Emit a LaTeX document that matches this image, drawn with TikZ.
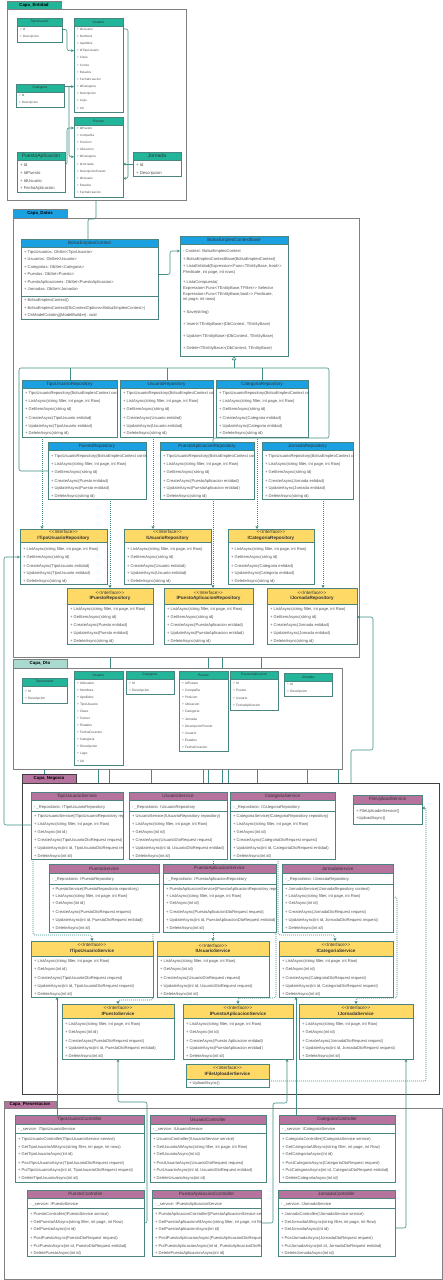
\documentclass[tikz,border=0pt]{standalone}
\usepackage{fontspec}
\setmainfont{Liberation Sans}
\usetikzlibrary{arrows.meta,fit}

\definecolor{entc}{HTML}{22B59A}
\definecolor{datc}{HTML}{1BA1E2}
\definecolor{dtotab}{HTML}{A9D9CF}
\definecolor{negc}{HTML}{B5739D}
\definecolor{ifc}{HTML}{FFD966}
\definecolor{boxc}{HTML}{4A8580}
\definecolor{linec}{HTML}{3F8F87}
\definecolor{fldc}{HTML}{505050}
\definecolor{framec}{HTML}{808080}

\pgfdeclarelayer{back}
\pgfdeclarelayer{frames}
\pgfdeclarelayer{conns}
\pgfsetlayers{back,frames,conns,main}

\tikzset{
  boxline/.style={draw=boxc, line width=0.6pt},
  classbox/.style={boxline, inner sep=0pt, outer sep=0pt},
  hdr/.style={inner sep=0pt, align=center, text=black!80, font=\fontsize{4.6}{5.6}\selectfont},
  hsmall/.style={font=\fontsize{3.4}{4}\selectfont},
  hlarge/.style={font=\fontsize{5}{6}\selectfont},
  fld/.style={anchor=west, inner sep=0pt, text=fldc, font=\fontsize{4.1}{5}\selectfont},
  fsmall/.style={font=\fontsize{3.1}{4}\selectfont},
  fdto/.style={font=\fontsize{3.3}{4}\selectfont},
  flarge/.style={font=\fontsize{4.2}{5}\selectfont},
  pkg/.style={draw=framec, line width=0.6pt, fill=white, inner sep=0pt, outer sep=0pt},
  tablabel/.style={inner sep=0pt, font=\fontsize{4.4}{5}\selectfont\bfseries},
  conn/.style={draw=linec, line width=0.6pt, rounded corners=2pt},
  dep/.style={conn, -{Stealth[length=3pt,width=2.8pt]}},
  real/.style={conn, dash pattern=on 1pt off 1pt, -{Triangle[open,length=2.6pt,width=3pt]}},
  gen/.style={conn, -{Triangle[open,length=4pt,width=4.5pt]}},
}

% class box: [header style]{name}{x1}{y1}{x2}{y2}{header bottom}{header colour}{title}
\newcommand\umlclass[9][]{%
  \fill[white] (#3,#4) rectangle (#5,#6);
  \fill[#8] (#3,#4) rectangle (#5,#7);
  \draw[boxline] (#3,#7) -- (#5,#7);
  \node[classbox, fit={(#3,#4) (#5,#6)}] (#2) {};
  \node[hdr,#1] at ({(#3+#5)/2},{(#4+#7)/2}) {#9};
}
% compartment rows: [style]{box}{x}{y/text list}
\newcommand\umlrows[4][]{%
  \begin{scope}
    \clip (#2.north west) rectangle (#2.south east);
    \foreach \ry/\rt in {#4} {\node[fld,#1] at (#3,\ry) {\rt};}
  \end{scope}
}
\newcommand\umlsep[2]{\draw[boxline] (#1.west |- 0,#2) -- (#1.east |- 0,#2);}
\newcommand\iface[1]{<{}<Interface>{}>\\{\bfseries #1}}

\begin{document}
\begin{tikzpicture}[x=1pt,y=-1pt]
\useasboundingbox (0,0) rectangle (443,1280);

% ---------------- packages ----------------
\begin{pgfonlayer}{frames}
  \node[pkg, fit={(7,9) (186,200)}] (pEnt) {};
  \node[pkg, fill=entc, fit={(7,1) (61,9)}] (tEnt) {};
  \node[tablabel] at (tEnt) {Capa\_Entidad};

  \node[pkg, fit={(13,218) (359,657)}] (pDat) {};
  \node[pkg, fill=datc, fit={(13,209) (67,218)}] (tDat) {};
  \node[tablabel] at (tDat) {Capa\_Datos};

  \node[pkg, fit={(13,668) (342,769)}] (pDto) {};
  \node[pkg, fill=dtotab, fit={(13,659) (67,668)}] (tDto) {};
  \node[tablabel] at (tDto) {Capa\_Dto};

  \node[pkg, draw=black!75, fit={(22,783) (439,1094)}] (pNeg) {};
  \node[pkg, draw=black!75, fill=negc, fit={(22,774) (76,783)}] (tNeg) {};
  \node[tablabel] at (tNeg) {Capa\_Negocio};

  \node[pkg, fit={(4,1108) (442,1279)}] (pPre) {};
  \node[pkg, fill=negc, fit={(4,1101) (56,1108)}] (tPre) {};
  \node[tablabel] at (tPre) {Capa\_Presentacion};
\end{pgfonlayer}

% links between layers, partly hidden behind the packages
\begin{pgfonlayer}{back}
  \fill[white] (0,0) rectangle (443,1280);
  \foreach \x in {110,208,222,261}
    \draw[conn] (\x,0 |- pDat.south) -- (\x,0 |- pDto.north);
  \foreach \x in {98,109,151,203,208,222,228,257,307,338}
    \draw[conn] (\x,0 |- pDto.south) -- (\x,0 |- pNeg.north);
  \draw[conn] (44,0 |- pDto.south) -- (44,0 |- tNeg.north);
\end{pgfonlayer}

% ---------------- Capa_Entidad ----------------
\umlclass[hsmall]{eTipo}{17}{18}{62}{42}{26}{entc}{TipoUsuario}
\umlrows[fsmall]{eTipo}{20}{29.5/{+ Id}, 37/{+ Descripcion}}

\umlclass[hsmall]{eUsuario}{74}{18}{123}{112}{26}{entc}{Usuario}
\umlrows[fsmall]{eUsuario}{77}{29/{+ IdUsuario}, 36.2/{+ Nombres}, 43.4/{+ Apellidos},
  50.6/{+ IdTipoUsuario}, 57.8/{+ Clave}, 65/{+ Correo}, 72.2/{+ Estados},
  79.4/{+ FechaCreacion}, 86.6/{+ IdCategoria}, 93.8/{+ Descripcion}, 101/{+ Logo}, 108.2/{+ Url}}

\umlclass[hsmall]{eCat}{16}{84}{64}{107}{92}{entc}{Categoria}
\umlrows[fsmall]{eCat}{19}{95.5/{+ Id}, 103/{+ Descripcion}}

\umlclass[hsmall]{ePuesto}{74}{117}{123}{197}{125}{entc}{Puesto}
\umlrows[fsmall]{ePuesto}{77}{128/{+ IdPuesto}, 135.2/{+ Compañia}, 142.4/{+ Posicion},
  149.6/{+ Ubicacion}, 156.8/{+ IdCategoria}, 164/{+ IdJornada}, 171.2/{+ DescripcionPuesto},
  178.4/{+ IdUsuario}, 185.6/{+ Estados}, 192.8/{+ FechaCreacion}}

\umlclass[hlarge]{ePA}{17}{152}{65}{192}{160}{entc}{PuestoAplicacion}
\umlrows[flarge]{ePA}{20}{164.5/{+ Id}, 172.5/{+ IdPuesto}, 180.5/{+ IdUsuario}, 188.3/{+ FechaAplicacion}}

\umlclass[hlarge]{eJornada}{133}{152}{181}{176}{160}{entc}{Jornada}
\umlrows[flarge]{eJornada}{136}{165/{+ Id}, 173/{+ Descripcion}}

% ---------------- Capa_Datos ----------------
\umlclass{dCtx}{21}{239}{158}{319}{247}{datc}{BolsaEmpleoContext}
\umlrows{dCtx}{24}{252/{+ TipoUsuarios: DbSet<TipoUsuario>}, 259.5/{+ Usuarios: DbSet<Usuario>},
  267/{+ Categorias: DbSet<Categoria>}, 274.5/{+ Puestos: DbSet<Puesto>},
  282/{+ PuestoAplicaciones: DbSet<PuestoAplicacion>}, 289.5/{+ Jornadas: DbSet<Jornada>},
  300.5/{+ BolsaEmpleoContext()}, 308/{+ BolsaEmpleoContext(DbContextOptions<BolsaEmpleoContext>)},
  315.5/{+ OnModelCreating(ModelBuilder): void}}
\umlsep{dCtx}{296}

\umlclass{dBase}{180}{236}{288}{356}{244}{datc}{BolsaEmpleoContextBase}
\umlrows{dBase}{183}{251/{- Context: BolsaEmpleoContext}, 259/{+ BolsaEmpleoContextBase(BolsaEmpleoContext)},
  266/{+ ListaEntidad(Expression<Func<TEntityBase, bool>{}>}, 272/{Predicate, int page, int rows)},
  282/{+ ListaCompuesta(}, 288/{Expression<Func<TEntityBase,TFilter>{}> Selector},
  294/{Expression<Func<TEntityBase,bool>{}> Predicate,}, 299.5/{int page, int rows)},
  312/{+ Save(string)}, 324/{+ Insert<TEntityBase>(DbContext, TEntityBase)},
  336/{+ Update<TEntityBase>(DbContext, TEntityBase)}, 348/{+ Delete<TEntityBase>(DbContext, TEntityBase)}}

\umlclass{rTipo}{22}{380}{117}{437}{388}{datc}{TipoUsuarioRepository}
\umlrows{rTipo}{25}{393/{+ TipoUsuarioRepository(BolsaEmpleoContext context)},
  401/{+ ListAsync(string filter, int page, int Row)}, 409/{+ GetItemAsync(string id)},
  418/{+ CreateAsync(TipoUsuario entidad)}, 426/{+ UpdateAsync(TipoUsuario entidad)}, 433.5/{+ DeleteAsync(string id)}}

\umlclass{rUsuario}{120}{380}{213}{437}{388}{datc}{UsuarioRepository}
\umlrows{rUsuario}{123}{393/{+ TipoUsuarioRepository(BolsaEmpleoContext context)},
  401/{+ ListAsync(string filter, int page, int Row)}, 409/{+ GetItemAsync(string id)},
  418/{+ CreateAsync(Usuario entidad)}, 426/{+ UpdateAsync(Usuario entidad)}, 433.5/{+ DeleteAsync(string id)}}

\umlclass{rCat}{216}{380}{308}{437}{388}{datc}{CategoriaRepository}
\umlrows{rCat}{219}{393/{+ TipoUsuarioRepository(BolsaEmpleoContext context)},
  401/{+ ListAsync(string filter, int page, int Row)}, 409/{+ GetItemAsync(string id)},
  418/{+ CreateAsync(Categoria entidad)}, 426/{+ UpdateAsync(Categoria entidad)}, 433.5/{+ DeleteAsync(string id)}}

\umlclass{rPuesto}{48}{442}{146}{499}{450}{datc}{PuestoRepository}
\umlrows{rPuesto}{51}{456/{+ TipoUsuarioRepository(BolsaEmpleoContext context)},
  464/{+ ListAsync(string filter, int page, int Row)}, 472/{+ GetItemAsync(string id)},
  481/{+ CreateAsync(Puesto entidad)}, 488/{+ UpdateAsync(Puesto entidad)}, 496/{+ DeleteAsync(string id)}}

\umlclass{rPA}{160}{442}{254}{499}{450}{datc}{PuestoAplicacionRepository}
\umlrows{rPA}{163}{456/{+ TipoUsuarioRepository(BolsaEmpleoContext context)},
  464/{+ ListAsync(string filter, int page, int Row)}, 472/{+ GetItemAsync(string id)},
  481/{+ CreateAsync(PuestoAplicacion entidad)}, 488/{+ UpdateAsync(PuestoAplicacion entidad)}, 496/{+ DeleteAsync(string id)}}

\umlclass{rJornada}{262}{442}{353}{499}{450}{datc}{JornadaRepository}
\umlrows{rJornada}{265}{456/{+ TipoUsuarioRepository(BolsaEmpleoContext context)},
  464/{+ ListAsync(string filter, int page, int Row)}, 472/{+ GetItemAsync(string id)},
  481/{+ CreateAsync(Jornada entidad)}, 488/{+ UpdateAsync(Jornada entidad)}, 496/{+ DeleteAsync(string id)}}

\umlclass{iTipo}{20}{529}{107}{584}{542}{ifc}{\iface{ITipoUsuarioRepository}}
\umlrows{iTipo}{23}{549/{+ ListAsync(string filter, int page, int Row)}, 557/{+ GetItemAsync(string id)},
  566/{+ CreateAsync(TipoUsuario entidad)}, 573.5/{+ UpdateAsync(TipoUsuario entidad)}, 581/{+ DeleteAsync(string id)}}

\umlclass{iUsuario}{124}{529}{211}{584}{542}{ifc}{\iface{IUsuarioRepository}}
\umlrows{iUsuario}{127}{549/{+ ListAsync(string filter, int page, int Row)}, 557/{+ GetItemAsync(string id)},
  566/{+ CreateAsync(Usuario entidad)}, 573.5/{+ UpdateAsync(Usuario entidad)}, 581/{+ DeleteAsync(string id)}}

\umlclass{iCat}{228}{529}{314}{584}{542}{ifc}{\iface{ICategoriaRepository}}
\umlrows{iCat}{231}{549/{+ ListAsync(string filter, int page, int Row)}, 557/{+ GetItemAsync(string id)},
  566/{+ CreateAsync(Categoria entidad)}, 573.5/{+ UpdateAsync(Categoria entidad)}, 581/{+ DeleteAsync(string id)}}

\umlclass{iPuesto}{67}{588}{153}{644}{604}{ifc}{\iface{IPuestoRepository}}
\umlrows{iPuesto}{70}{609/{+ ListAsync(string filter, int page, int Row)}, 617/{+ GetItemAsync(string id)},
  625/{+ CreateAsync(Puesto entidad)}, 633/{+ UpdateAsync(Puesto entidad)}, 641/{+ DeleteAsync(string id)}}

\umlclass{iPA}{164}{588}{253}{644}{604}{ifc}{\iface{IPuestoAplicacionRepository}}
\umlrows{iPA}{167}{609/{+ ListAsync(string filter, int page, int Row)}, 617/{+ GetItemAsync(string id)},
  625/{+ CreateAsync(PuestoAplicacion entidad)}, 633/{+ UpdateAsync(PuestoAplicacion entidad)}, 641/{+ DeleteAsync(string id)}}

\umlclass{iJornada}{267}{588}{357}{644}{604}{ifc}{\iface{IJornadaRepository}}
\umlrows{iJornada}{270}{609/{+ ListAsync(string filter, int page, int Row)}, 617/{+ GetItemAsync(string id)},
  625/{+ CreateAsync(Jornada entidad)}, 633/{+ UpdateAsync(Jornada entidad)}, 641/{+ DeleteAsync(string id)}}

% ---------------- Capa_Dto ----------------
\umlclass[hsmall]{tTipo}{22}{678}{67}{703}{686}{entc}{TipoUsuario}
\umlrows[fdto]{tTipo}{25}{691/{+ Id}, 698.5/{+ Descripcion}}

\umlclass[hsmall]{tUsuario}{74}{671}{123}{765}{679}{entc}{Usuario}
\umlrows[fdto]{tUsuario}{77}{683/{+ IdUsuario}, 690.1/{+ Nombres}, 697.2/{+ Apellidos},
  704.3/{+ TipoUsuario}, 711.4/{+ Clave}, 718.5/{+ Correo}, 725.6/{+ Estados},
  732.7/{+ FechaCreacion}, 739.8/{+ Categoria}, 746.9/{+ Descripcion}, 754/{+ Logo}, 761.1/{+ Url}}

\umlclass[hsmall]{tCat}{126}{671}{174}{694}{679}{entc}{Categoria}
\umlrows[fdto]{tCat}{129}{683/{+ Id}, 691/{+ Descripcion}}

\umlclass[hsmall]{tPuesto}{179}{671}{228}{751}{679}{entc}{Puesto}
\umlrows[fdto]{tPuesto}{182}{683/{+ IdPuesto}, 690.2/{+ Compañia}, 697.4/{+ Posicion},
  704.6/{+ Ubicacion}, 711.8/{+ Categoria}, 719/{+ Jornada}, 726.2/{+ DescripcionPuesto},
  733.4/{+ Usuario}, 740.6/{+ Estados}, 747.8/{+ FechaCreacion}}

\umlclass[hsmall]{tPA}{230}{671}{278}{710}{679}{entc}{PuestoAplicacion}
\umlrows[fdto]{tPA}{233}{683/{+ Id}, 690.7/{+ Puesto}, 698.3/{+ Usuario}, 706/{+ FechaAplicacion}}

\umlclass[hsmall]{tJornada}{284}{673}{332}{696}{681}{entc}{Jornada}
\umlrows[fdto]{tJornada}{287}{684.5/{+ Id}, 692/{+ Descripcion}}

% ---------------- Capa_Negocio ----------------
\umlclass{sTipo}{31}{792}{123}{859}{800}{negc}{TipoUsuarioService}
\umlrows{sTipo}{34}{807/{- \_Repositorio: ITipoUsuarioRepository},
  816/{+ TipoUsuarioService(ITipoUsuarioRepository repository)}, 824/{+ ListAsync(string filter, int page, int Row)},
  832/{+ GetAsync(int id)}, 840/{+ CreateAsync(TipoUsuarioDtoRequest request)},
  848/{+ UpdateAsync(int id, TipoUsuarioDtoRequest request)}, 856/{+ DeleteAsync(int id)}}
\umlsep{sTipo}{811}

\umlclass{sUsuario}{129}{792}{227}{859}{800}{negc}{UsuarioService}
\umlrows{sUsuario}{132}{807/{- \_Repositorio: IUsuarioRepository},
  816/{+ UsuarioService(IUsuarioRepository repository)}, 824/{+ ListAsync(string filter, int page, int Row)},
  832/{+ GetAsync(int id)}, 840/{+ CreateAsync(UsuarioDtoRequest request)},
  848/{+ UpdateAsync(int id, UsuarioDtoRequest entidad)}, 856/{+ DeleteAsync(int id)}}
\umlsep{sUsuario}{811}

\umlclass{sCat}{230}{792}{335}{859}{800}{negc}{CategoriaService}
\umlrows{sCat}{233}{807/{- \_Repositorio: ICategoriaRepository},
  816/{+ CategoriaService(ICategoriaRepository repository)}, 824/{+ ListAsync(string filter, int page, int Row)},
  832/{+ GetAsync(int id)}, 840/{+ CreateAsync(CategoriaDtoRequest request)},
  848/{+ UpdateAsync(int id, CategoriaDtoRequest entidad)}, 856/{+ DeleteAsync(int id)}}
\umlsep{sCat}{811}

\umlclass{sFile}{353}{795}{422}{824}{804}{negc}{FileUploadService}
\umlrows{sFile}{356}{811/{+ FileUploaderService()}, 818.5/{+UploadAsync()}}

\umlclass{sPuesto}{49}{864}{159}{932}{873}{negc}{PuestoService}
\umlrows{sPuesto}{52}{879/{- \_Repositorio: IPuestoRepository},
  889/{+ PuestoService(IPuestoRepositorio repository)}, 896/{+ ListAsync(string filter, int page, int Row)},
  903.5/{+ GetAsync(int id)}, 912/{+ CreateAsync(PuestoDtoRequest request)},
  920/{+ UpdateAsync(int id, PuestoDtoRequest entidad)}, 928/{+ DeleteAsync(int id)}}
\umlsep{sPuesto}{884}

\umlclass{sPA}{163}{864}{276}{932}{873}{negc}{PuestoAplicacionService}
\umlrows{sPA}{166}{879/{- \_Repositorio: IPuestoAplicacionRepository},
  889/{+ PuestoAplicacionService(IPuestoAplicacionRepository repository)}, 896/{+ ListAsync(string filter, int page, int Row)},
  903.5/{+ GetAsync(int id)}, 912/{+ CreateAsync(PuestoAplicacionDtoRequest request)},
  920/{+ UpdateAsync(int id, PuestoAplicacionDtoRequest entidad)}, 928/{+ DeleteAsync(int id)}}
\umlsep{sPA}{884}

\umlclass{sJornada}{282}{864}{393}{932}{873}{negc}{JornadaService}
\umlrows{sJornada}{285}{879/{- \_Repositorio: IJornadaRepository},
  889/{+ JornadaService(IJornadaRepository context)}, 896/{+ ListAsync(string filter, int page, int Row)},
  903.5/{+ GetAsync(int id)}, 912/{+ CreateAsync(JornadaDtoRequest request)},
  920/{+ UpdateAsync(int id, JornadaDtoRequest request)}, 928/{+ DeleteAsync(int id)}}
\umlsep{sJornada}{884}

\umlclass{siTipo}{31}{941}{153}{997}{956}{ifc}{\iface{ITipoUsuarioService}}
\umlrows{siTipo}{34}{961/{+ ListAsync(string filter, int page, int Row)}, 969/{+ GetAsync(int id)},
  978/{+ CreateAsync(TipoUsuarioDtoRequest request)}, 986/{+ UpdateAsync(int id, TipoUsuarioDtoRequest request)},
  994/{+ DeleteAsync(int id)}}

\umlclass{siUsuario}{157}{941}{269}{997}{956}{ifc}{\iface{IUsuarioService}}
\umlrows{siUsuario}{160}{961/{+ ListAsync(string filter, int page, int Row)}, 969/{+ GetAsync(int id)},
  978/{+ CreateAsync(UsuarioDtoRequest request)}, 986/{+ UpdateAsync(int id, UsuarioDtoRequest request)},
  994/{+ DeleteAsync(int id)}}

\umlclass{siCat}{279}{941}{393}{997}{956}{ifc}{\iface{ICategoriaService}}
\umlrows{siCat}{282}{961/{+ ListAsync(string filter, int page, int Row)}, 969/{+ GetAsync(int id)},
  978/{+ CreateAsync(CategoriaDtoRequest request)}, 986/{+ UpdateAsync(int id, CategoriaDtoRequest request)},
  994/{+ DeleteAsync(int id)}}

\umlclass{siPuesto}{62}{1004}{174}{1059}{1018}{ifc}{\iface{IPuestoService}}
\umlrows{siPuesto}{65}{1024/{+ ListAsync(string filter, int page, int Row)}, 1032/{+ GetAsync(int id)},
  1041/{+ CreateAsync(PuestoDtoRequest request)}, 1048.5/{+ UpdateAsync(int id, PuestoDtoRequest entidad)},
  1056/{+ DeleteAsync(int id)}}

\umlclass{siPA}{183}{1004}{293}{1059}{1018}{ifc}{\iface{IPuestoAplicacionService}}
\umlrows{siPA}{186}{1024/{+ ListAsync(string filter, int page, int Row)}, 1032/{+ GetAsync(int id)},
  1041/{+ CreateAsync(Puesto Aplicacion entidad)}, 1048.5/{+ UpdateAsync(PuestoAplicacion entidad)},
  1056/{+ DeleteAsync(int id)}}

\umlclass{siJornada}{299}{1004}{413}{1059}{1018}{ifc}{\iface{IJornadaService}}
\umlrows{siJornada}{302}{1024/{+ ListAsync(string filter, int page, int Row)}, 1032/{+ GetAsync(int id)},
  1041/{+ CreateAsync(JornadaDtoRequest request)}, 1048.5/{+ UpdateAsync(int id, JornadaDtoRequest request)},
  1056/{+ DeleteAsync(int id)}}

\umlclass{siFile}{186}{1064}{269}{1087}{1079}{ifc}{\iface{IFileUploaderService}}
\umlrows{siFile}{189}{1083.5/{+ UploadAsync()}}

% ---------------- Capa_Presentacion ----------------
\umlclass{cTipo}{15}{1115}{144}{1182}{1124}{negc}{TipoUsuarioController}
\umlrows{cTipo}{18}{1129/{- \_service: ITipoUsuarioService},
  1139/{+ TipoUsuarioController(ITipoUsuarioService service)}, 1147/{+ GetTipoUsuarioAllAsync(string filter, int page, int rows)},
  1154.5/{+ GetTipoUsuarioAsync(int id)}, 1163/{+ PostTipoUsuarioAsync(TipoUsuarioDtoRequest request)},
  1170.5/{+ PutTipoUsuarioAsync(int id, TipoUsuarioDtoRequest request)}, 1178/{+ DeleteTipoUsuarioAsync(int id)}}
\umlsep{cTipo}{1133}

\umlclass{cUsuario}{150}{1115}{266}{1182}{1124}{negc}{UsuarioController}
\umlrows{cUsuario}{153}{1129/{- \_service: IUsuarioService},
  1139/{+ UsuarioController(IUsuarioService service)}, 1147/{+ GetUsuarioAllAsync(string filter, int page, int Row)},
  1154.5/{+ GetUsuarioAsync(int id)}, 1163/{+ PostUsuarioAsync(UsuarioDtoRequest request)},
  1170.5/{+ PutUsuarioAsync(int id, UsuarioDtoRequest entidad)}, 1178/{+ DeleteUsuarioAsync(int id)}}
\umlsep{cUsuario}{1133}

\umlclass{cCat}{279}{1115}{395}{1182}{1124}{negc}{CategoriaController}
\umlrows{cCat}{282}{1129/{- \_service: ICategoriaService},
  1139/{+ CategoriaController(ICategoriaService service)}, 1147/{+ GetCategoriaAllAsync(string filter, int page, int Row)},
  1154.5/{+ GetCategoriaAsync(int id)}, 1163/{+ PostCategoriaAsync(CategoriaDtoRequest request)},
  1170.5/{+ PutCategoriaAsync(int id, CategoriaDtoRequest entidad)}, 1178/{+ DeleteCategoriaAsync(int id)}}
\umlsep{cCat}{1133}

\umlclass{cPuesto}{27}{1190}{144}{1256}{1198}{negc}{PuestoController}
\umlrows{cPuesto}{30}{1204/{- \_service: IPuestoService},
  1214/{+ PuestoController(IPuestoService service)}, 1222/{+ GetPuestoAllAsync(string filter, int page, int Row)},
  1229.5/{+ GetPuestoAsync(int id)}, 1238/{+ PostPuestoAsync(PuestoDtoRequest request)},
  1246/{+ PutPuestoAsync(int id, PuestoDtoRequest entidad)}, 1253/{+ DeletePuestoAsync(int id)}}
\umlsep{cPuesto}{1208}

\umlclass{cPA}{152}{1190}{261}{1256}{1198}{negc}{PuestoAplicacionController}
\umlrows{cPA}{155}{1204/{- \_service: IPuestoAplicacionService},
  1214/{+ PuestoAplicacionController(IPuestoAplicacionService service)}, 1222/{+ GetPuestoAplicacionAllAsync(string filter, int page, int Row)},
  1229.5/{+ GetPuestoAplicacionAsync(int id)}, 1238/{+ PostPuestoAplicacionAsync(PuestoAplicacionDtoRequest request)},
  1246/{+ PutPuestoAplicacionAsync(int id, PuestoAplicacionDtoRequest entidad)}, 1253/{+ DeletePuestoAplicacionAsync(int id)}}
\umlsep{cPA}{1208}

\umlclass{cJornada}{278}{1190}{395}{1256}{1198}{negc}{JornadaController}
\umlrows{cJornada}{281}{1204/{- \_service: IJornadaService},
  1214/{+ JornadaController(IJornadaService service)}, 1222/{+ GetJornadaAllAsync(string filter, int page, int Row)},
  1229.5/{+ GetJornadaAsync(int id)}, 1238/{+ PostJornadaAsync(JornadaDtoRequest request)},
  1246/{+ PutJornadaAsync(int id, JornadaDtoRequest entidad)}, 1253/{+ DeleteJornadaAsync(int id)}}
\umlsep{cJornada}{1208}

% ---------------- connectors ----------------
\begin{pgfonlayer}{conns}
  % entities
  \draw[dep] (eTipo.east |- 0,29.5) -| (67,50.6) -- (eUsuario.west |- 0,50.6);
  \draw[dep] (eCat.east |- 0,86.6) -- (eUsuario.west |- 0,86.6);
  \draw[dep] (69,86.6) |- (ePuesto.west |- 0,156.8);
  \draw[dep] (ePA.east |- 0,164.5) -| (67,128) -- (ePuesto.west |- 0,128);
  \draw[dep] (eUsuario.east |- 0,29) -| (128,178.4) -- (ePuesto.east |- 0,178.4);
  \draw[dep] (eJornada.west |- 0,164) -- (ePuesto.east |- 0,164);
  \draw[conn] (96,0 |- pEnt.south) -- (96,219) -| (88,0 |- dCtx.north);

  % data layer
  \draw[dep] (dCtx.east |- 0,274.5) -| (170,251) -- (dBase.west |- 0,251);
  \draw[gen] (234,368) -- (234,0 |- dBase.south);
  \draw[conn] (rPuesto.west |- 0,471) -| (19,368) -- (329,368) |- (213,438) -- (213,0 |- rPA.north);
  \draw[conn] (70,368) -- (70,0 |- rTipo.north);
  \draw[conn] (167,368) -- (167,0 |- rUsuario.north);
  \draw[conn] (262,368) -- (262,0 |- rCat.north);

  \draw[real] (42,0 |- rTipo.south) -- (42,0 |- iTipo.north);
  \draw[real] (153,0 |- rUsuario.south) -- (153,0 |- iUsuario.north);
  \draw[real] (257,0 |- rCat.south) -- (257,0 |- iCat.north);
  \draw[real] (110,0 |- rPuesto.south) -- (110,0 |- iPuesto.north);
  \draw[real] (213,0 |- rPA.south) -- (213,0 |- iPA.north);
  \draw[real] (323,0 |- rJornada.south) -- (323,0 |- iJornada.north);

  % services to repositories
  \draw[dep] (sTipo.west |- 0,825) -| (4,557) -- (iTipo.west |- 0,557);
  \draw[conn, {Stealth[length=3pt,width=2.8pt]}-] (iJornada.east |- 0,617) -| (373,750) -| (351,0 |- pNeg.north);

  % services to their interfaces
  \draw[real] (33,0 |- sTipo.south) |- (92,935) -- (92,0 |- siTipo.north);
  \draw[real] (213,0 |- sUsuario.south) -- (213,0 |- siUsuario.north);
  \draw[real] (278,0 |- sCat.south) |- (335,935) -- (335,0 |- siCat.north);
  \draw[real] (153,0 |- sPuesto.south) |- (118,1000) -- (118,0 |- siPuesto.north);
  \draw[real] (225,0 |- sPA.south) -- (225,932.5) -| (276,998) -| (238,0 |- siPA.north);
  \draw[real] (sJornada.east |- 0,897) -| (397,998) -| (356,0 |- siJornada.north);
  \draw[real] (siFile.east |- 0,1081) -| (426,808) -- (sFile.east |- 0,808);

  % controllers to service interfaces
  \draw[dep] (57,0 |- cTipo.north) -- (57,0 |- siTipo.south);
  \draw[dep] (cPuesto.east |- 0,1223) -| (147,1102) -| (118,0 |- siPuesto.south);
  \draw[dep] (cPA.east |- 0,1223) -| (273,1103) -| (287,0 |- siPA.south);
  \draw[dep] (296,0 |- cCat.north) -- (296,0 |- siCat.south);
  \draw[dep] (cJornada.east |- 0,1228) -| (406,0 |- siJornada.south);
\end{pgfonlayer}
\end{tikzpicture}
\end{document}
